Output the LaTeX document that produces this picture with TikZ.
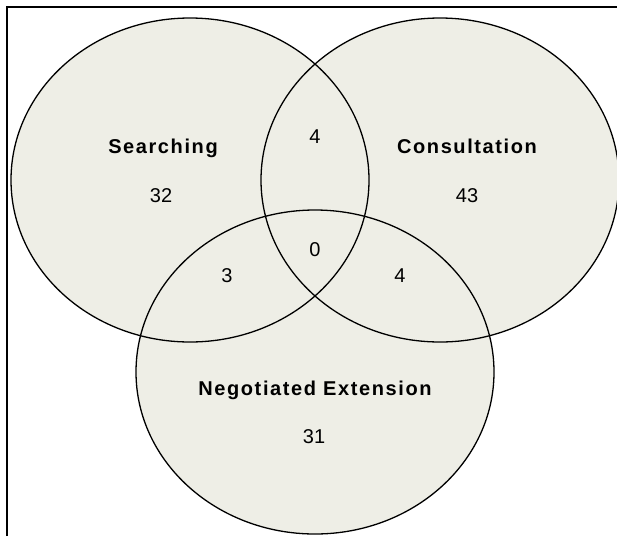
\documentclass[tikz,border=0pt]{standalone}
\usepackage{fontspec}
\setmainfont{Liberation Sans}
\newfontfamily\setfont[LetterSpace=8]{Liberation Sans}
\usepackage{tikz}
\usetikzlibrary{shapes}
\definecolor{setfill}{RGB}{238,238,230}

\begin{document}
\begin{tikzpicture}[
    x=1pt, y=-1pt,
    venn/.style={ellipse, fill=setfill, inner sep=0pt, minimum width=358pt, minimum height=324pt},
    rim/.style={ellipse, draw, line width=1.3pt, inner sep=0pt, minimum width=358pt, minimum height=324pt},
    setname/.style={anchor=base, font=\setfont\bfseries\fontsize{20}{24}\selectfont},
    count/.style={anchor=base, font=\fontsize{20}{24}\selectfont},
]
    \useasboundingbox (0,0) rectangle (617,536);
    \draw[line width=2pt] (7,536) -- (7,7) -- (617,7);

    % the three sets
    \node[venn] (searchfill) at (190,180) {};
    \node[venn] (consultfill) at (440,180) {};
    \node[venn] (negfill) at (315,372) {};
    \node[rim] (search) at (190,180) {};
    \node[rim] (consult) at (440,180) {};
    \node[rim] (neg) at (315,372) {};

    \node[setname] (searchname) at (163,153) {Searching};
    \node[setname] (consultname) at (467,153) {Consultation};
    \node[setname] (negname) at (315,395) {Negotiated Extension};

    \node[count] (nsearch) at (161,202) {32};
    \node[count] (nconsult) at (467,202) {43};
    \node[count] (nneg) at (314,443) {31};
    \node[count] (nsc) at (315,143) {4};
    \node[count] (nsn) at (227,282) {3};
    \node[count] (ncn) at (400,282) {4};
    \node[count] (nall) at (315,256) {0};
\end{tikzpicture}
\end{document}
